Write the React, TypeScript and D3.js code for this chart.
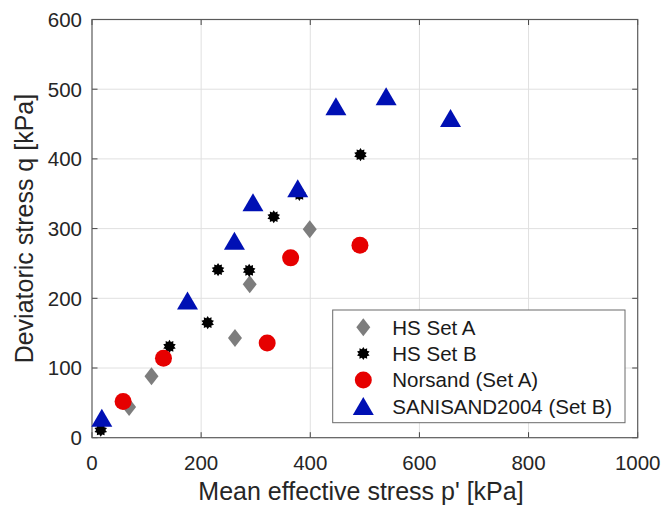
import React from "react";
import * as d3 from "d3";

const hsSetA: [number, number][] = [[68, 44], [109, 88], [262, 143], [289, 220], [399, 299]];
const hsSetB: [number, number][] = [[16, 11], [142, 131], [212, 165], [231, 241], [288, 240], [333, 317], [380, 349], [492, 406]];
const norsand: [number, number][] = [[57, 52], [131, 114], [321, 136], [364, 258], [491, 276]];
const sanisand: [number, number][] = [[18, 28], [175, 196], [261, 282], [295, 337], [377, 357], [447, 475], [539, 489], [657, 458]];
const xTicks = [0, 200, 400, 600, 800, 1000];
const yTicks = [0, 100, 200, 300, 400, 500, 600];
const legendLabels = ["HS Set A", "HS Set B", "Norsand (Set A)", "SANISAND2004 (Set B)"];

const W = 666, H = 506;
const L = 92, R = 637.7, T = 19.5, B = 437.7;
const FONT = "'Liberation Sans', Arial, Helvetica, sans-serif";

const GRAY = "#7d7d7d";
const RED = "#e60000";
const BLUE = "#0010b4";

function starPath(ro: number, ri: number, n: number) {
  const pts: string[] = [];
  for (let i = 0; i < 2 * n; i++) {
    const r = i % 2 === 0 ? ro : ri;
    const a = (Math.PI * i) / n;
    pts.push(`${(r * Math.sin(a)).toFixed(2)},${(-r * Math.cos(a)).toFixed(2)}`);
  }
  return "M" + pts.join("L") + "Z";
}

const Diamond = ({ x, y }: { x: number; y: number }) => (
  <path d="M0,-9L7,0L0,9L-7,0Z" transform={`translate(${x},${y})`} fill={GRAY} />
);
const Star = ({ x, y }: { x: number; y: number }) => (
  <path d={starPath(6.6, 4.6, 10)} transform={`translate(${x},${y})`} fill="#000" />
);
const Circle = ({ x, y }: { x: number; y: number }) => (
  <circle cx={x} cy={y} r={8.5} fill={RED} />
);
const Tri = ({ x, y }: { x: number; y: number }) => (
  <path d="M0,-9.5L10.5,8.5L-10.5,8.5Z" transform={`translate(${x},${y})`} fill={BLUE} />
);

export default function App() {
  const x = d3.scaleLinear().domain([0, 1000]).range([L, R]);
  const y = d3.scaleLinear().domain([0, 600]).range([B, T]);
  const markers = [Diamond, Star, Circle, Tri];

  const legX = 332.7, legY = 310, legW = 292.3, legH = 112.7;
  const rowY = [327.3, 353.5, 380, 406.5];

  return (
    <svg width={W} height={H} style={{ position: "absolute", left: 0, top: 0, background: "#fff" }} fontFamily={FONT}>
      <rect x={0} y={0} width={W} height={H} fill="#fff" />
      {/* grid */}
      {xTicks.slice(1, -1).map((t) => (
        <line key={"gx" + t} x1={x(t)} x2={x(t)} y1={T} y2={B} stroke="#e0e0e0" strokeWidth={1} />
      ))}
      {yTicks.slice(1, -1).map((t) => (
        <line key={"gy" + t} x1={L} x2={R} y1={y(t)} y2={y(t)} stroke="#e0e0e0" strokeWidth={1} />
      ))}
      {/* ticks */}
      {xTicks.map((t) => (
        <g key={"tx" + t}>
          <line x1={x(t)} x2={x(t)} y1={B} y2={B - 5.5} stroke="#444" />
          <line x1={x(t)} x2={x(t)} y1={T} y2={T + 5.5} stroke="#444" />
          <text x={x(t)} y={470} textAnchor="middle" fontSize={20.5} fill="#262626">{t}</text>
        </g>
      ))}
      {yTicks.map((t) => (
        <g key={"ty" + t}>
          <line x1={L} x2={L + 5.5} y1={y(t)} y2={y(t)} stroke="#444" />
          <line x1={R} x2={R - 5.5} y1={y(t)} y2={y(t)} stroke="#444" />
          <text x={82} y={y(t) + 7.3} textAnchor="end" fontSize={20.5} fill="#262626">{t}</text>
        </g>
      ))}
      {/* frame */}
      <rect x={L} y={T} width={R - L} height={B - T} fill="none" stroke="#5a5a5a" strokeWidth={1.2} />
      {/* data */}
      {hsSetA.map(([a, b], i) => <Diamond key={"a" + i} x={x(a)} y={y(b)} />)}
      {hsSetB.map(([a, b], i) => <Star key={"b" + i} x={x(a)} y={y(b)} />)}
      {norsand.map(([a, b], i) => <Circle key={"c" + i} x={x(a)} y={y(b)} />)}
      {sanisand.map(([a, b], i) => <Tri key={"d" + i} x={x(a)} y={y(b)} />)}
      {/* legend */}
      <rect x={legX} y={legY} width={legW} height={legH} fill="#fff" stroke="#6a6a6a" strokeWidth={1} />
      {legendLabels.map((lab, i) => {
        const M = markers[i];
        return (
          <g key={lab}>
            <M x={363.3} y={rowY[i]} />
            <text x={392.3} y={rowY[i] + 7.2} fontSize={20.5} fill="#1a1a1a">{lab}</text>
          </g>
        );
      })}
      {/* axis titles */}
      <text x={361} y={500} textAnchor="middle" fontSize={25} fill="#262626">Mean effective stress p' [kPa]</text>
      <text transform={`translate(33,${(T + B) / 2}) rotate(-90)`} textAnchor="middle" fontSize={25} fill="#262626">Deviatoric stress q [kPa]</text>
    </svg>
  );
}
